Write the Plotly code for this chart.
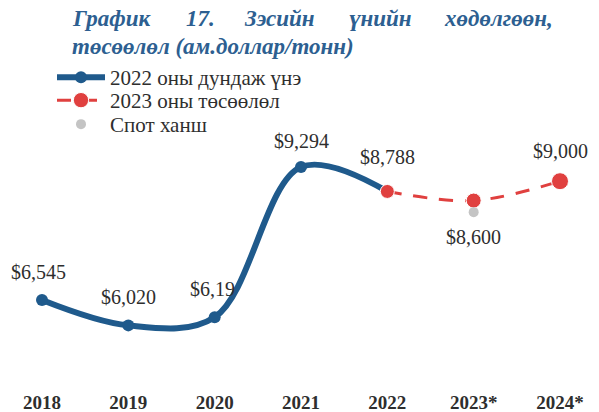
import plotly.graph_objects as go

years = ["2018", "2019", "2020", "2021", "2022", "2023*", "2024*"]
avg_idx = [0, 1, 2, 3, 4]
avg_values = [6545, 6020, 6190, 9294, 8788]
avg_labels = ["$6,545", "$6,020", "$6,19", "$9,294", "$8,788"]
proj_idx = [4, 5, 6]
proj_values = [8788, 8600, 9000]
proj_labels = ["$8,600", "$9,000"]
spot_idx = [5]
spot_values = [8360]

BLUE = "#1f5a8c"
RED = "#e0403f"
GREY = "#c4c4c4"
TXT = "#2e2e2e"
W, H = 599, 412
B = 23
PLOT_H = H - B


def px(x):
    return x / W


def py(y):
    return 1 - y / PLOT_H


fig = go.Figure()
fig.add_trace(go.Scatter(
    x=avg_idx, y=avg_values, mode="lines+markers", name="2022 оны дундаж үнэ",
    line=dict(color=BLUE, width=6, shape="spline", smoothing=1.0),
    marker=dict(color=BLUE, size=12), legend="legend"))
fig.add_trace(go.Scatter(
    x=proj_idx, y=proj_values, mode="lines+markers", name="2023 оны төсөөлөл",
    line=dict(color=RED, width=3, dash="14px,12px", shape="spline", smoothing=1.0),
    marker=dict(color=RED, size=[14, 15, 17], opacity=1), legend="legend2"))
fig.add_trace(go.Scatter(
    x=spot_idx, y=spot_values, mode="markers", name="Спот ханш",
    marker=dict(color=GREY, size=10), legend="legend3"))

annotations = []
lab_font = dict(family="Liberation Serif", size=20, color=TXT)
avg_shift = [(-4, 28), (0, 28), (-2, 28), (0, 26), (0, 34)]
for i, v, t, (dx, dy) in zip(avg_idx, avg_values, avg_labels, avg_shift):
    annotations.append(dict(x=i, y=v, xref="x", yref="y", text=t, showarrow=False,
                            xshift=dx, yshift=dy, font=lab_font))
proj_shift = [(0, -36), (0, 30)]
for i, v, t, (dx, dy) in zip(proj_idx[1:], proj_values[1:], proj_labels, proj_shift):
    annotations.append(dict(x=i, y=v, xref="x", yref="y", text=t, showarrow=False,
                            xshift=dx, yshift=dy, font=lab_font))

title_font = dict(family="Liberation Serif", size=23, color="#2d5f91", weight="bold", style="italic")
line1 = [("График", 70, "left"), ("17.", 184, "left"), ("Зэсийн", 242, "left"),
         ("үнийн", 347, "left"), ("хөдөлгөөн,", 555, "right")]
for t, x, anc in line1:
    annotations.append(dict(x=px(x), y=py(18), xref="paper", yref="paper",
                            text="<i><b>" + t + "</b></i>", showarrow=False,
                            xanchor=anc, yanchor="middle", font=title_font))
annotations.append(dict(x=px(70), y=py(47), xref="paper", yref="paper",
                        text="<i><b>төсөөлөл (ам.доллар/тонн)</b></i>", showarrow=False,
                        xanchor="left", yanchor="middle", font=title_font))

leg_font = dict(family="Liberation Serif", size=21, color=TXT)


def leg(top):
    return dict(x=px(52), y=py(top), xanchor="left", yanchor="top", font=leg_font,
                bgcolor="rgba(0,0,0,0)", itemwidth=48)


fig.update_layout(
    width=W, height=H,
    margin=dict(l=0, r=0, t=0, b=B, pad=0),
    paper_bgcolor="white", plot_bgcolor="white",
    showlegend=True,
    legend=leg(57), legend2=leg(80), legend3=leg(104),
    xaxis=dict(range=[-0.4865, 6.4517], tickmode="array", tickvals=list(range(len(years))),
               ticktext=years, showgrid=False, zeroline=False, showline=False, ticks="",
               tickfont=dict(family="Liberation Serif", size=19, color=TXT, weight="bold")),
    yaxis=dict(range=[4705, 12745], visible=False, showgrid=False, zeroline=False),
    annotations=annotations,
)

fig.write_html("out.html", config={"displayModeBar": False},
               post_script="document.body.style.margin='0';")
